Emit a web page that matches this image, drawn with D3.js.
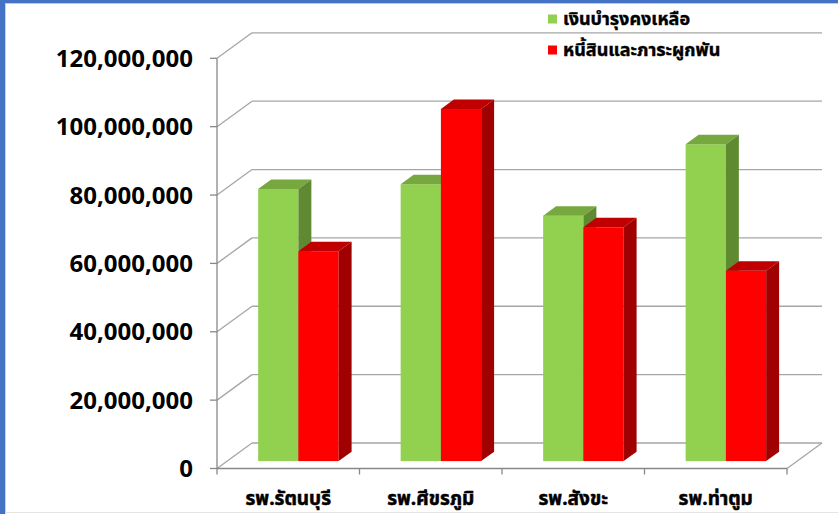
<!DOCTYPE html>
<html><head><meta charset="utf-8">
<script src="https://cdn.jsdelivr.net/npm/d3@7"></script>
<style>html,body{margin:0;padding:0;background:#fff;}svg{display:block;}</style>
</head><body>
<script>
const categories = ["รพ.รัตนบุรี", "รพ.ศีขรภูมิ", "รพ.สังขะ", "รพ.ท่าตูม"];
const seriesNames = ["เงินบำรุงคงเหลือ", "หนี้สินและภาระผูกพัน"];
const remaining = [79600000, 81000000, 71800000, 92700000];
const liabilities = [61400000, 103000000, 68400000, 55700000];
const yTicks = [0, 20000000, 40000000, 60000000, 80000000, 100000000, 120000000];

const W = 838, H = 514;
const svg = d3.select("body").append("svg").attr("width", W).attr("height", H);
svg.append("rect").attr("width", W).attr("height", H).attr("fill", "#fff");

// frame
svg.append("rect").attr("x", 0).attr("y", 0).attr("width", 5).attr("height", H).attr("fill", "#4472C4");
svg.append("rect").attr("x", 0).attr("y", 0).attr("width", W).attr("height", 3).attr("fill", "#4472C4");
svg.append("line").attr("x1", 5.5).attr("x2", 5.5).attr("y1", 3).attr("y2", H).attr("stroke", "#d0d0d0");
svg.append("line").attr("x1", 5).attr("x2", W).attr("y1", 3.5).attr("y2", 3.5).attr("stroke", "#c8c8c8");
svg.append("line").attr("x1", 5).attr("x2", W).attr("y1", 512.5).attr("y2", 512.5).attr("stroke", "#e4e4e4");

const DX = 35, DY = -25.5;
const x0 = d3.scaleBand().domain(categories).range([217, 787]).padding(0);
const x1 = d3.scaleBand().domain([0, 1]).range([31, x0.bandwidth() - 31]).padding(0);
const y = d3.scaleLinear().domain([0, 120000000]).range([468.5, 58.3]);

const gridC = "#a6a6a6";
const g = svg.append("g");
yTicks.forEach(v => {
  const yy = y(v);
  g.append("line").attr("x1", 217).attr("y1", yy).attr("x2", 217 + DX).attr("y2", yy + DY)
    .attr("stroke", gridC).attr("stroke-width", 1.3);
  g.append("line").attr("x1", 217 + DX).attr("y1", yy + DY).attr("x2", 787 + DX).attr("y2", yy + DY)
    .attr("stroke", gridC).attr("stroke-width", 1.3);
  g.append("line").attr("x1", 210).attr("y1", yy).attr("x2", 217).attr("y2", yy)
    .attr("stroke", "#888").attr("stroke-width", 1.3);
});
g.append("line").attr("x1", 787).attr("y1", y(0)).attr("x2", 787 + DX).attr("y2", y(0) + DY).attr("stroke", gridC).attr("stroke-width", 1.3);
g.append("line").attr("x1", 217).attr("y1", y(0)).attr("x2", 787).attr("y2", y(0)).attr("stroke", "#888").attr("stroke-width", 1.3);
g.append("line").attr("x1", 217).attr("y1", y(120000000)).attr("x2", 217).attr("y2", y(0)).attr("stroke", "#888").attr("stroke-width", 1.3);
const xTickPos = categories.map(c => x0(c)).concat([787]);
xTickPos.forEach(p => {
  g.append("line").attr("x1", p).attr("x2", p).attr("y1", y(0)).attr("y2", y(0) + 6).attr("stroke", "#888").attr("stroke-width", 1.3);
});

svg.append("g").selectAll("text").data(yTicks).join("text")
  .attr("x", 193).attr("y", d => y(d)).attr("dy", "0.36em")
  .attr("text-anchor", "end")
  .attr("font-family", "'Open Sans', sans-serif").attr("font-weight", "bold").attr("font-size", 24)
  .attr("fill", "#000")
  .text(d => d3.format(",")(d));

const d0 = 0.29, dep = 0.37;
const colors = [
  {front: "#92D050", top: "#77A83F", side: "#5F8A31"},
  {front: "#FF0000", top: "#C00000", side: "#A00000"}
];
const bars = svg.append("g");
categories.forEach((c, i) => {
  [remaining[i], liabilities[i]].forEach((v, s) => {
    const xl = x0(c) + x1(s) + DX * d0;
    const xr = xl + x1.bandwidth();
    const yt = y(v) + DY * d0;
    const yb = y(0) + DY * d0;
    const ox = DX * dep, oy = DY * dep;
    const col = colors[s];
    bars.append("rect").attr("x", xl).attr("y", yt).attr("width", xr - xl).attr("height", yb - yt).attr("fill", col.front);
    bars.append("polygon").attr("points", [[xl, yt], [xr, yt], [xr + ox, yt + oy], [xl + ox, yt + oy]].join(" ")).attr("fill", col.top);
    bars.append("polygon").attr("points", [[xr, yt], [xr + ox, yt + oy], [xr + ox, yb + oy], [xr, yb]].join(" ")).attr("fill", col.side);
  });
});

const thaiFont = "Tahoma, 'Noto Sans Thai', 'Noto Sans', sans-serif";
svg.append("g").selectAll("text").data(categories).join("text")
  .attr("x", d => x0(d) + x0.bandwidth() / 2).attr("y", 505)
  .attr("text-anchor", "middle")
  .attr("font-family", thaiFont).attr("font-weight", "bold").attr("font-size", 19)
  .attr("fill", "#000").attr("stroke", "#000").attr("stroke-width", 0.5)
  .text(d => d);

const leg = svg.append("g");
seriesNames.forEach((n, s) => {
  const ly = 19 + s * 31;
  leg.append("rect").attr("x", 548).attr("y", ly - 4.5).attr("width", 9).attr("height", 9).attr("fill", colors[s].front);
  leg.append("text").attr("x", 563).attr("y", ly).attr("dy", "0.35em")
    .attr("font-family", thaiFont).attr("font-weight", "bold").attr("font-size", 18)
    .attr("fill", "#000").attr("stroke", "#000").attr("stroke-width", 0.4).text(n);
});
</script>
</body></html>
